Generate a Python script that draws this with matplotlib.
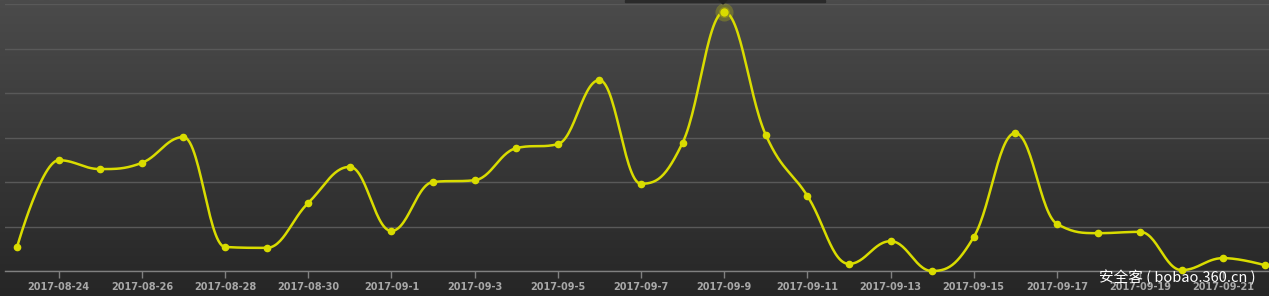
import numpy as np
import pandas as pd
import matplotlib
matplotlib.use("Agg")
import matplotlib.pyplot as plt
import matplotlib.dates as mdates

dates = pd.date_range("2017-08-23", "2017-09-22", freq="D")
values = [5.4, 24.9, 22.9, 24.3, 30.1, 5.4, 5.2, 15.3, 23.4, 9.0,
          20.0, 20.4, 27.6, 28.5, 42.9, 19.6, 28.8, 58.2, 30.6, 16.9,
          1.6, 6.7, 0.0, 7.6, 31.0, 10.6, 8.5, 8.8, 0.2, 2.9, 1.3]
tick_dates = pd.date_range("2017-08-24", "2017-09-21", freq="2D")
tick_labels = [f"{d.year}-{d.month:02d}-{d.day:02d}" if d.month == 8
               else f"{d.year}-{d.month:02d}-{d.day}" for d in tick_dates]

line_color = "#d9dc00"


def spline_path(x, y, smoothing=1.5):
    # highcharts style bezier spline
    n = len(x)
    lc = [(x[i], y[i]) for i in range(n)]
    rc = [(x[i], y[i]) for i in range(n)]
    for i in range(1, n - 1):
        px, py = x[i], y[i]
        d = smoothing + 1
        lx = (smoothing * px + x[i - 1]) / d
        ly = (smoothing * py + y[i - 1]) / d
        rx = (smoothing * px + x[i + 1]) / d
        ry = (smoothing * py + y[i + 1]) / d
        corr = (ry - ly) * (rx - px) / (rx - lx) + py - ry
        ly += corr; ry += corr
        ly0, ny = y[i - 1], y[i + 1]
        if ly > ly0 and ly > py:
            ly = max(ly0, py); ry = 2 * py - ly
        elif ly < ly0 and ly < py:
            ly = min(ly0, py); ry = 2 * py - ly
        if ry > ny and ry > py:
            ry = max(ny, py); ly = 2 * py - ry
        elif ry < ny and ry < py:
            ry = min(ny, py); ly = 2 * py - ry
        lc[i] = (lx, ly); rc[i] = (rx, ry)
    xs, ys = [], []
    t = np.linspace(0, 1, 30)
    for i in range(1, n):
        p0 = np.array([x[i - 1], y[i - 1]]); p1 = np.array(rc[i - 1])
        p2 = np.array(lc[i]); p3 = np.array([x[i], y[i]])
        seg = ((1 - t) ** 3)[:, None] * p0 + (3 * (1 - t) ** 2 * t)[:, None] * p1 \
            + (3 * (1 - t) * t ** 2)[:, None] * p2 + (t ** 3)[:, None] * p3
        xs.extend(seg[:, 0]); ys.extend(seg[:, 1])
    return np.array(xs), np.array(ys)


fig = plt.figure(figsize=(12.69, 2.96), dpi=100)

# background gradient
bg = fig.add_axes([0, 0, 1, 1])
grad = np.linspace(0, 1, 256)[:, None]
cmap = matplotlib.colors.LinearSegmentedColormap.from_list("bg", ["#4b4b4b", "#262626"])
bg.imshow(grad, aspect="auto", cmap=cmap, extent=[0, 1, 0, 1])
bg.axis("off")

ax = fig.add_axes([5 / 1269, 25 / 296, 1264 / 1269, 267 / 296])
ax.patch.set_alpha(0)

xnum = mdates.date2num(dates)
ax.set_xlim(xnum[0] - 0.29, xnum[-1] + 0.1)
ax.set_ylim(0, 60)

ax.set_yticks(np.arange(0, 61, 10))
ax.yaxis.grid(True, color="#595959", linewidth=1)
ax.tick_params(axis="y", left=False, labelleft=False)

ax.set_xticks(mdates.date2num(tick_dates))
ax.set_xticklabels(tick_labels, fontsize=7, fontweight="bold", color="#a8a8a8")
ax.tick_params(axis="x", length=5, width=1, color="#808080", pad=3)

for s in ["top", "right", "left"]:
    ax.spines[s].set_visible(False)
ax.spines["bottom"].set_color("#808080")
ax.spines["bottom"].set_linewidth(1)

sx, sy = spline_path(list(xnum), values)
ax.plot(sx, sy, color=line_color, linewidth=1.8, clip_on=False, zorder=3)
ax.plot(xnum, values, "o", color=line_color, markersize=4.5, clip_on=False, zorder=4)

# hover state on the peak
peak = int(np.argmax(values))
ax.plot(xnum[peak], values[peak], "o", color=line_color, markersize=13, alpha=0.25,
        markeredgewidth=0, clip_on=False, zorder=4)
ax.plot(xnum[peak], values[peak], "o", color=line_color, markersize=7,
        markeredgecolor="#8a8a20", clip_on=False, zorder=5)

# tooltip edge at the top
fig.patches.append(matplotlib.patches.Rectangle((625 / 1269, 294 / 296), 200 / 1269, 2 / 296,
                                                transform=fig.transFigure, color="#2a2a2a"))
fig.patches.append(matplotlib.patches.Polygon([(719 / 1269, 1), (727 / 1269, 1), (723 / 1269, 292 / 296)],
                                              transform=fig.transFigure, color="#222222"))

fig.text(1099 / 1269, 1 - 277 / 296, "安全客 ( bobao.360.cn )", color="white", fontsize=10.5,
         family=["Noto Sans CJK SC", "DejaVu Sans"], va="center", ha="left")

fig.savefig("out.png", dpi=100)
